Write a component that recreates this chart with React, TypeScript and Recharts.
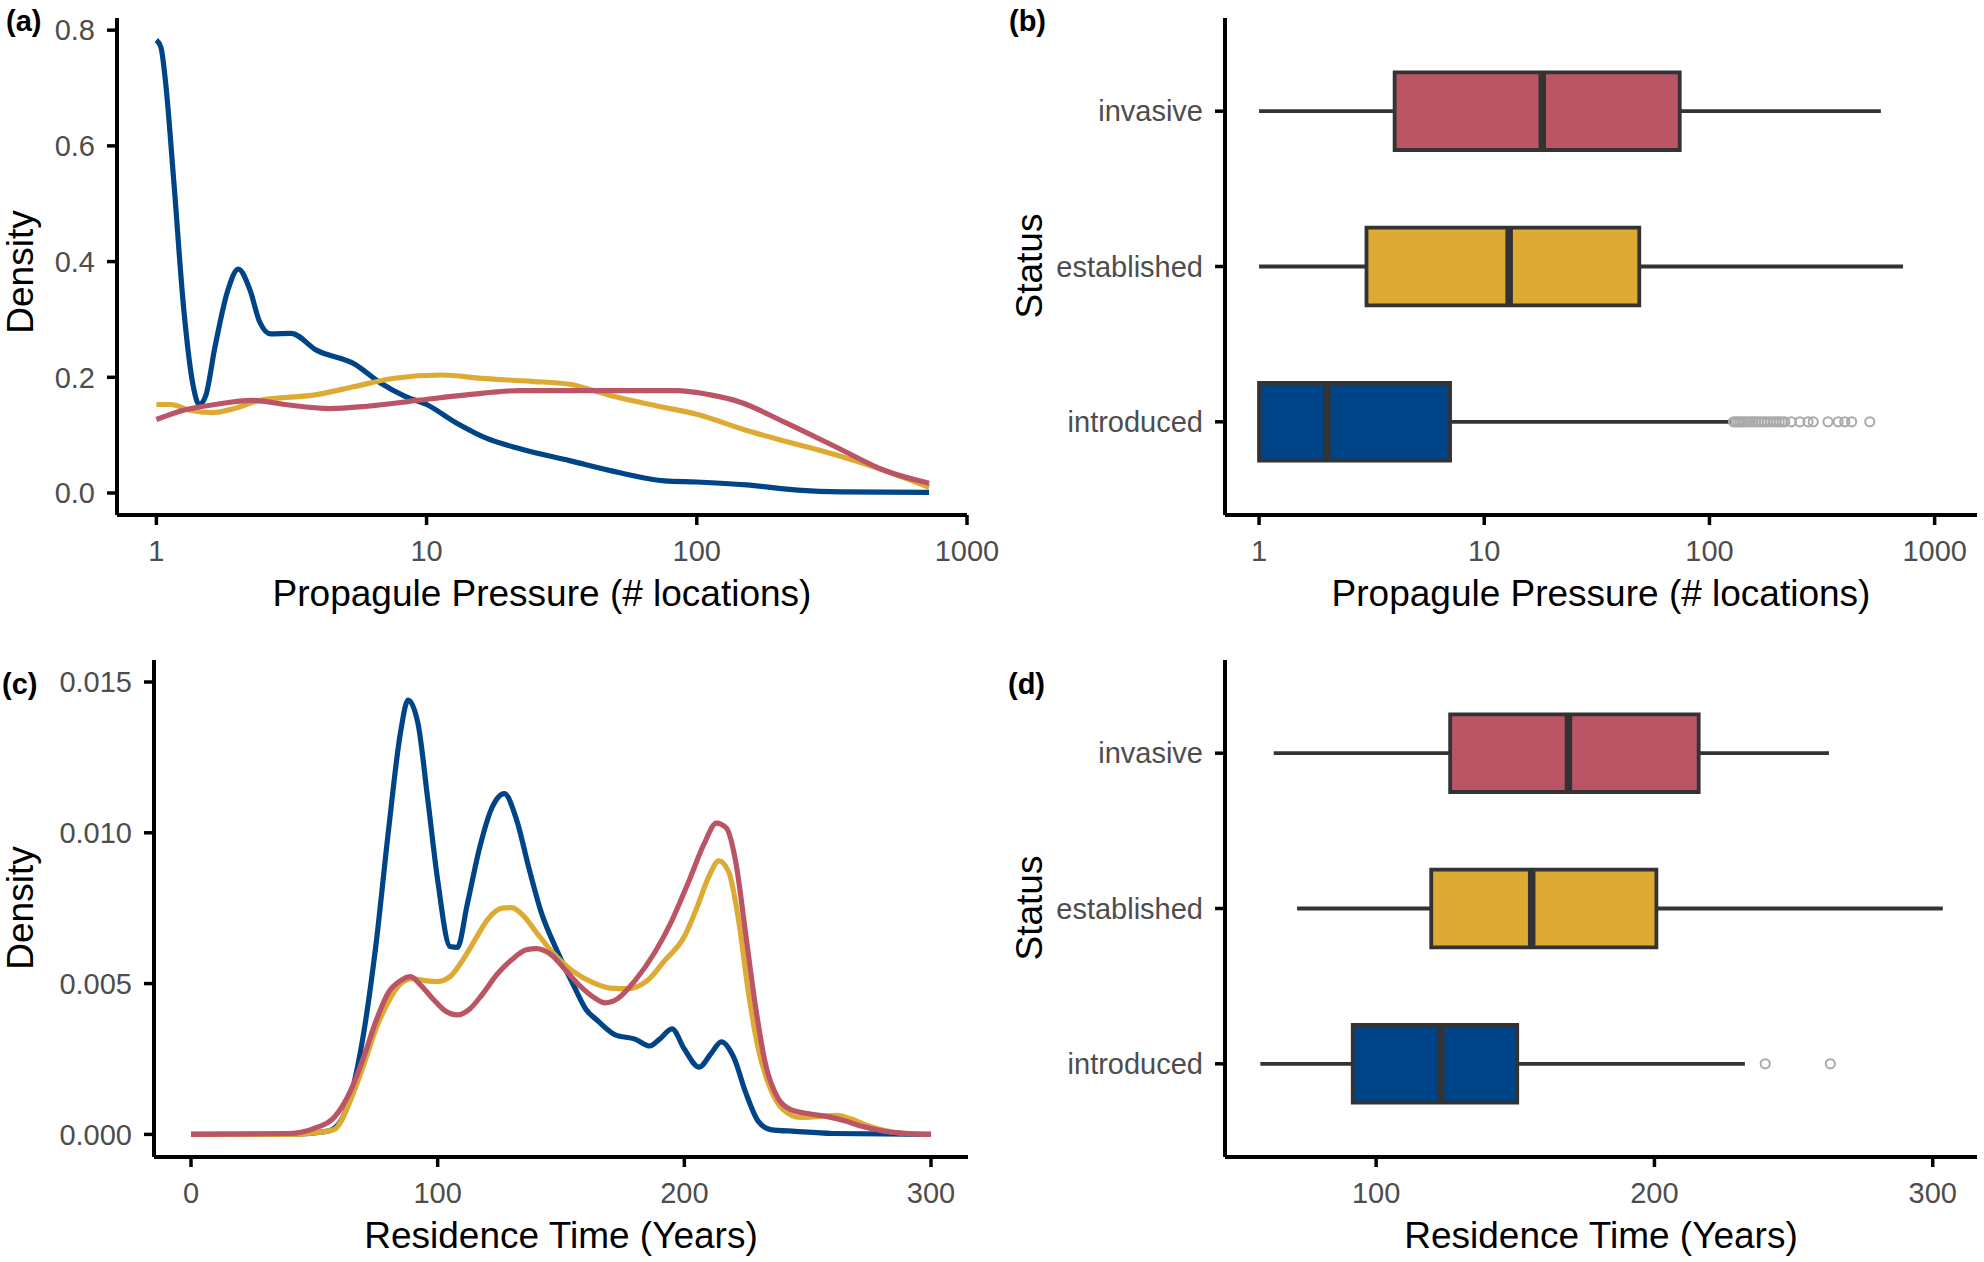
import React from 'react';
import {
  LineChart, Line, ComposedChart, Scatter, XAxis, YAxis,
  ReferenceArea, ReferenceLine,
} from 'recharts';

// category order on the y axis of the box plots (bottom to top)
const statusLabels = ['introduced', 'established', 'invasive'];
const statusColors = ['#004488', '#DDAA33', '#BB5566'];

const pressureTicks = [1, 10, 100, 1000];
const pressureDensityTicks = [0, 0.2, 0.4, 0.6, 0.8];
const residenceTicks = [0, 100, 200, 300];
const residenceBoxTicks = [100, 200, 300];
const residenceDensityTicks = [0, 0.005, 0.01, 0.015];

// (a) density of propagule pressure, [locations, density]
const pressureIntroduced = [
  [1, 0.783], [1.04, 0.77], [1.08, 0.713], [1.16, 0.539], [1.26, 0.323], [1.37, 0.184],
  [1.44, 0.153], [1.52, 0.167], [1.65, 0.254], [1.84, 0.351], [2.01, 0.387],
  [2.22, 0.351], [2.41, 0.296], [2.65, 0.275], [3.15, 0.276], [3.91, 0.247],
  [5.41, 0.223], [6.71, 0.191], [8.33, 0.167], [10, 0.153], [12.8, 0.122],
  [16.8, 0.094], [22, 0.077], [33.8, 0.056], [52, 0.035], [76, 0.021],
  [100, 0.019], [153, 0.014], [236, 0.005], [344, 0.002], [724, 0.001],
];
const pressureEstablished = [
  [1, 0.153], [1.13, 0.153], [1.33, 0.143], [1.61, 0.139], [1.94, 0.146],
  [2.41, 0.16], [3.91, 0.17], [5.41, 0.184], [7.48, 0.198], [11.4, 0.204],
  [16, 0.198], [24.5, 0.193], [33.8, 0.188], [46.7, 0.17], [72, 0.15],
  [100, 0.136], [153, 0.108], [223, 0.087], [326, 0.066], [501, 0.038], [724, 0.01],
];
const pressureInvasive = [
  [1, 0.127], [1.26, 0.143], [1.65, 0.153], [2.28, 0.16], [2.99, 0.153],
  [4.36, 0.146], [6.03, 0.15], [9.27, 0.16], [14.3, 0.17], [22, 0.177],
  [44.3, 0.177], [84.5, 0.177], [111, 0.17], [145, 0.157], [212, 0.122],
  [326, 0.08], [501, 0.038], [724, 0.017],
];

// (b) box plot stats of propagule pressure, one entry per status
const pressureLow = [1, 1, 1];
const pressureQ1 = [1, 3.0, 4.0];
const pressureMedian = [2.0, 12.9, 18.1];
const pressureQ3 = [7.05, 48.8, 73.8];
const pressureHigh = [125, 724, 577];
const pressureOutliers = [
  128, 131, 134, 137, 140, 144, 148, 152, 156, 160, 165, 170, 175, 180, 186,
  192, 198, 204, 210, 216, 231, 252, 274, 289, 336, 373, 399, 428, 515,
];

// (c) density of residence time, [years, density]
const residenceIntroduced = [
  [0, 0], [40, 0], [55, 0.0001], [60, 0.00036], [65, 0.00136], [70, 0.00336],
  [75, 0.0063], [80, 0.01003], [85, 0.01336], [88, 0.0144], [92, 0.01363],
  [96, 0.0111], [100, 0.00843], [105, 0.00623], [108, 0.0062], [112, 0.00763],
  [117, 0.0095], [122, 0.01083], [127, 0.0113], [132, 0.01043], [137, 0.00883],
  [142, 0.00736], [148, 0.00616], [155, 0.00496], [160, 0.00416], [165, 0.00376],
  [172, 0.0033], [180, 0.00316], [186, 0.00293], [190, 0.00316], [195, 0.0035],
  [200, 0.00283], [206, 0.00223], [211, 0.0027], [215, 0.00307], [220, 0.00256],
  [225, 0.00136], [230, 0.00043], [235, 0.00016], [245, 0.0001], [260, 0.00003], [300, 0],
];
const residenceEstablished = [
  [0, 0], [40, 0], [50, 0.00005], [58, 0.00016], [65, 0.0012], [70, 0.0023],
  [75, 0.0035], [80, 0.0044], [85, 0.005], [90, 0.00516], [95, 0.0051],
  [100, 0.00507], [105, 0.00523], [110, 0.00576], [115, 0.00643], [120, 0.0071],
  [126, 0.0075], [130, 0.00752], [135, 0.00723], [140, 0.0067], [147, 0.006],
  [155, 0.0054], [163, 0.00503], [170, 0.00485], [177, 0.00483], [185, 0.0051],
  [192, 0.00576], [200, 0.00656], [205, 0.0075], [210, 0.00856], [214, 0.00907],
  [218, 0.0087], [222, 0.0071], [226, 0.0047], [230, 0.00283], [235, 0.0015],
  [240, 0.00083], [247, 0.00056], [255, 0.0006], [262, 0.00063], [268, 0.0005],
  [275, 0.00027], [285, 0.00007], [300, 0],
];
const residenceInvasive = [
  [0, 0], [40, 0.00003], [50, 0.0002], [58, 0.00056], [65, 0.0015], [70, 0.00256],
  [75, 0.00376], [80, 0.0047], [85, 0.0051], [89, 0.00523], [93, 0.00496],
  [98, 0.0045], [103, 0.0041], [108, 0.00396], [113, 0.00416], [118, 0.00463],
  [124, 0.0053], [130, 0.00579], [136, 0.00612], [140, 0.00616], [146, 0.00596],
  [152, 0.00543], [158, 0.0049], [163, 0.00456], [168, 0.00436], [173, 0.0045],
  [180, 0.0051], [188, 0.00603], [195, 0.0071], [202, 0.00843], [208, 0.00963],
  [213, 0.01032], [217, 0.01016], [221, 0.00896], [225, 0.00656], [229, 0.00416],
  [233, 0.0023], [238, 0.0012], [243, 0.00083], [250, 0.00069], [258, 0.00059],
  [265, 0.00045], [272, 0.00027], [280, 0.00012], [290, 0.00003], [300, 0],
];

// (d) box plot stats of residence time
const residenceLow = [58.4, 71.6, 63.2];
const residenceQ1 = [91.6, 119.8, 126.6];
const residenceMedian = [123.2, 155.9, 169.1];
const residenceQ3 = [150.7, 200.7, 215.9];
const residenceHigh = [232.5, 303.6, 262.7];
const residenceOutliers = [239.8, 263.2];

const FONT = '"Liberation Sans", Arial, Helvetica, sans-serif';
const tickStyle = { fill: '#4D4D4D', fontSize: 29, fontFamily: FONT };
const axisLineStyle = { stroke: '#000000', strokeWidth: 4 };
const tickLineStyle = { stroke: '#000000', strokeWidth: 3.5 };

const toPoints = (pairs: number[][]) => pairs.map(([x, y]) => ({ x, y }));

const DensityPanel = ({ series, xScale, xDomain, xTicks, yDomain, yTicks, yFmt, yWidth, margin, xHeight, width }: any) => (
  <LineChart width={width} height={631} margin={margin}>
    <XAxis
      type="number" dataKey="x" scale={xScale} domain={xDomain} allowDataOverflow
      ticks={xTicks} interval={0} height={xHeight} tickSize={10} tickMargin={15}
      axisLine={axisLineStyle} tickLine={tickLineStyle} tick={tickStyle}
    />
    <YAxis
      type="number" dataKey="y" domain={yDomain} allowDataOverflow ticks={yTicks} interval={0}
      tickFormatter={yFmt} width={yWidth} tickSize={10} tickMargin={12}
      axisLine={axisLineStyle} tickLine={tickLineStyle} tick={tickStyle}
    />
    {series.map((s: number[][], i: number) => (
      <Line
        key={statusLabels[i]} data={toPoints(s)} dataKey="y" type="monotone"
        stroke={statusColors[i]} strokeWidth={5.2} dot={false} isAnimationActive={false}
      />
    ))}
  </LineChart>
);

const BoxPanel = ({ low, q1, med, q3, high, outliers, xScale, xDomain, xTicks, margin, xHeight }: any) => (
  <ComposedChart width={992} height={631} margin={margin}>
    <XAxis
      type="number" dataKey="x" scale={xScale} domain={xDomain} allowDataOverflow
      ticks={xTicks} interval={0} height={xHeight} tickSize={10} tickMargin={15}
      axisLine={axisLineStyle} tickLine={tickLineStyle} tick={tickStyle}
    />
    <YAxis
      type="number" dataKey="y" domain={[0.4, 3.6]} allowDataOverflow ticks={[1, 2, 3]} interval={0}
      tickFormatter={(v: number) => statusLabels[v - 1]} width={233} tickSize={10} tickMargin={12}
      axisLine={axisLineStyle} tickLine={tickLineStyle} tick={tickStyle}
    />
    {statusLabels.map((s, i) => (
      <ReferenceLine key={s + 'lo'} segment={[{ x: low[i], y: i + 1 }, { x: q1[i], y: i + 1 }]}
        stroke="#333333" strokeWidth={3.8} />
    ))}
    {statusLabels.map((s, i) => (
      <ReferenceLine key={s + 'hi'} segment={[{ x: q3[i], y: i + 1 }, { x: high[i], y: i + 1 }]}
        stroke="#333333" strokeWidth={3.8} />
    ))}
    {statusLabels.map((s, i) => (
      <ReferenceArea key={s + 'box'} x1={q1[i]} x2={q3[i]} y1={i + 0.75} y2={i + 1.25}
        fill={statusColors[i]} fillOpacity={1} stroke="#333333" strokeWidth={3.8} />
    ))}
    {statusLabels.map((s, i) => (
      <ReferenceLine key={s + 'med'} segment={[{ x: med[i], y: i + 0.75 }, { x: med[i], y: i + 1.25 }]}
        stroke="#333333" strokeWidth={7.5} />
    ))}
    <Scatter
      data={outliers.map((x: number) => ({ x, y: 1 }))}
      isAnimationActive={false}
      shape={(p: any) => (
        <circle cx={p.cx} cy={p.cy} r={4.6} fill="none" stroke="#AAAAAA" strokeWidth={2} />
      )}
    />
  </ComposedChart>
);

const titleStyle = { fontFamily: FONT, fontSize: 37, fill: '#000000' };
const tagStyle = { fontFamily: FONT, fontSize: 29, fontWeight: 700, fill: '#000000' };

export default function App() {
  return (
    <div style={{ position: 'absolute', left: 0, top: 0, width: 1984, height: 1262, background: '#ffffff' }}>
      <div style={{ position: 'absolute', left: 0, top: 0 }}>
        <DensityPanel
          series={[pressureIntroduced, pressureEstablished, pressureInvasive]}
          xScale="log" xDomain={[0.715, 1000]} xTicks={pressureTicks}
          yDomain={[-0.038, 0.821]} yTicks={pressureDensityTicks} yFmt={(v: number) => v.toFixed(1)}
          yWidth={117} margin={{ top: 18, right: 63, bottom: 0, left: 0 }} xHeight={116} width={1030}
        />
      </div>
      <div style={{ position: 'absolute', left: 992, top: 0 }}>
        <BoxPanel
          low={pressureLow} q1={pressureQ1} med={pressureMedian} q3={pressureQ3} high={pressureHigh}
          outliers={pressureOutliers} xScale="log" xDomain={[0.706, 1542]} xTicks={pressureTicks}
          margin={{ top: 18, right: 7, bottom: 0, left: 0 }} xHeight={116}
        />
      </div>
      <div style={{ position: 'absolute', left: 0, top: 631 }}>
        <DensityPanel
          series={[residenceIntroduced, residenceEstablished, residenceInvasive]}
          xScale="linear" xDomain={[-15, 315]} xTicks={residenceTicks}
          yDomain={[-0.00075, 0.01573]} yTicks={residenceDensityTicks} yFmt={(v: number) => v.toFixed(3)}
          yWidth={154} margin={{ top: 29, right: 24, bottom: 0, left: 0 }} xHeight={105} width={992}
        />
      </div>
      <div style={{ position: 'absolute', left: 992, top: 631 }}>
        <BoxPanel
          low={residenceLow} q1={residenceQ1} med={residenceMedian} q3={residenceQ3} high={residenceHigh}
          outliers={residenceOutliers} xScale="linear" xDomain={[45.7, 315.9]} xTicks={residenceBoxTicks}
          margin={{ top: 29, right: 7, bottom: 0, left: 0 }} xHeight={105}
        />
      </div>
      <svg width={1984} height={1262} style={{ position: 'absolute', left: 0, top: 0, pointerEvents: 'none' }}>
        <text x={6} y={31} style={tagStyle}>(a)</text>
        <text x={1009} y={31} style={tagStyle}>(b)</text>
        <text x={2} y={694} style={tagStyle}>(c)</text>
        <text x={1008} y={694} style={tagStyle}>(d)</text>
        <text x={542} y={606} textAnchor="middle" style={titleStyle}>Propagule Pressure (# locations)</text>
        <text x={1601} y={606} textAnchor="middle" style={titleStyle}>Propagule Pressure (# locations)</text>
        <text x={561} y={1248} textAnchor="middle" style={titleStyle}>Residence Time (Years)</text>
        <text x={1601} y={1248} textAnchor="middle" style={titleStyle}>Residence Time (Years)</text>
        <text x={0} y={0} textAnchor="middle" transform="translate(33 272) rotate(-90)" style={titleStyle}>Density</text>
        <text x={0} y={0} textAnchor="middle" transform="translate(33 908) rotate(-90)" style={titleStyle}>Density</text>
        <text x={0} y={0} textAnchor="middle" transform="translate(1042 266) rotate(-90)" style={titleStyle}>Status</text>
        <text x={0} y={0} textAnchor="middle" transform="translate(1042 908) rotate(-90)" style={titleStyle}>Status</text>
      </svg>
    </div>
  );
}
